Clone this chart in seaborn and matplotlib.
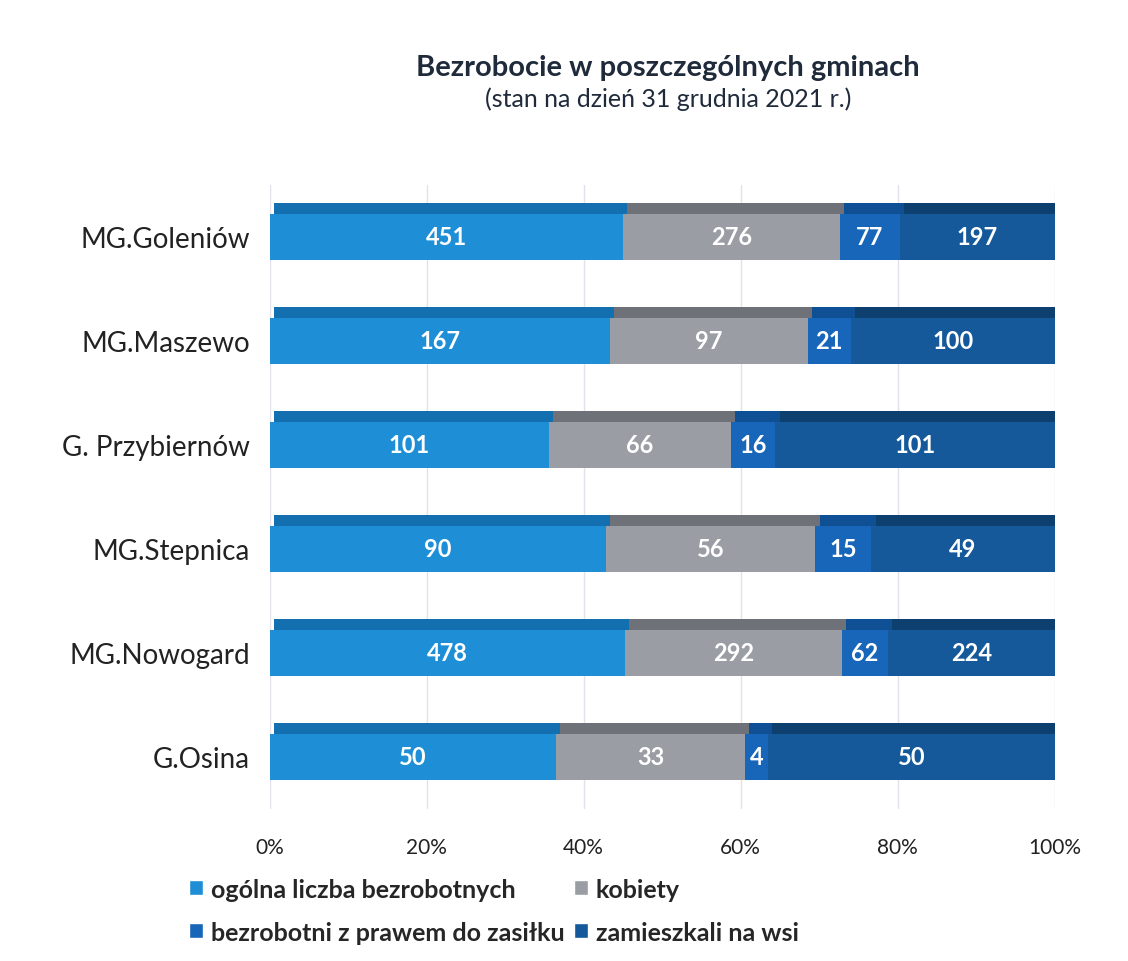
import numpy as np
import pandas as pd
import seaborn as sns
import matplotlib.pyplot as plt
import matplotlib.patheffects as pe
from matplotlib.patches import Patch

gminy = ["MG.Goleniów", "MG.Maszewo", "G. Przybiernów", "MG.Stepnica", "MG.Nowogard", "G.Osina"]
series = ["ogólna liczba bezrobotnych", "kobiety", "bezrobotni z prawem do zasiłku", "zamieszkali na wsi"]
ogolna = [451, 167, 101, 90, 478, 50]
kobiety = [276, 97, 66, 56, 292, 33]
zasilek = [77, 21, 16, 15, 62, 4]
wies = [197, 100, 101, 49, 224, 50]
colors = ["#1e8ed6", "#9b9da4", "#1766b9", "#15599a"]
shade = ["#136fb0", "#6f7178", "#0f4f93", "#0d406f"]

sns.set_theme(style="white")
plt.rcParams["font.family"] = ["Lato", "DejaVu Sans"]

vals = np.array([ogolna, kobiety, zasilek, wies], dtype=float)
pct = vals / vals.sum(axis=0) * 100
cum = pct.cumsum(axis=0)

fig = plt.figure(figsize=(11.28, 9.62), dpi=100)
ax = fig.add_axes([0.239, 0.158, 0.696, 0.649])

# two passes: first the depth (top face), then the front faces
for shadow in (True, False):
    for i in range(3, -1, -1):
        df = pd.DataFrame({"gmina": gminy, "x": cum[i]})
        sns.barplot(data=df, x="x", y="gmina", color=colors[i], orient="h",
                    width=0.44, ax=ax, saturation=1, linewidth=0)
        for p in ax.patches[-len(gminy):]:
            if shadow:
                p.set_zorder(2)
                p.set_path_effects([pe.SimplePatchShadow(offset=(3, 8), shadow_rgbFace=shade[i], alpha=1)])
            else:
                p.set_zorder(3)

for i in range(4):
    left = cum[i] - pct[i]
    for j in range(len(gminy)):
        ax.text(left[j] + pct[i][j] / 2, j, str(int(vals[i][j])), ha="center", va="center",
                color="white", fontsize=17, fontweight="bold", zorder=5)

ax.set_xlim(0, 100)
ax.set_ylim(5.5, -0.5)
ax.set_xticks([0, 20, 40, 60, 80, 100])
ax.set_xticklabels(["0%", "20%", "40%", "60%", "80%", "100%"])
ax.tick_params(axis="x", labelsize=15, pad=14, colors="#222222")
ax.tick_params(axis="y", labelsize=20, pad=8, colors="#222222")
ax.set_xlabel("")
ax.set_ylabel("")
ax.grid(axis="x", color="#e2e2ea", lw=1, zorder=0)
for s in ax.spines.values():
    s.set_visible(False)

fig.text(0.592, 0.929, "Bezrobocie w poszczególnych gminach", ha="center", va="center",
         fontsize=21, fontweight="bold", color="#1f2a3a")
fig.text(0.592, 0.897, "(stan na dzień 31 grudnia 2021 r.)", ha="center", va="center",
         fontsize=18, color="#1f2a3a")

order = [0, 2, 1, 3]
handles = [Patch(facecolor=colors[k], label=series[k]) for k in order]
fig.legend(handles=handles, ncol=2, loc="upper left", bbox_to_anchor=(0.148, 0.110),
           frameon=False, handlelength=0.55, handleheight=0.55, handletextpad=0.3,
           columnspacing=0.4, labelspacing=0.8, prop={"size": 18, "weight": "bold"})

fig.savefig("out.png", dpi=100, facecolor="white")
